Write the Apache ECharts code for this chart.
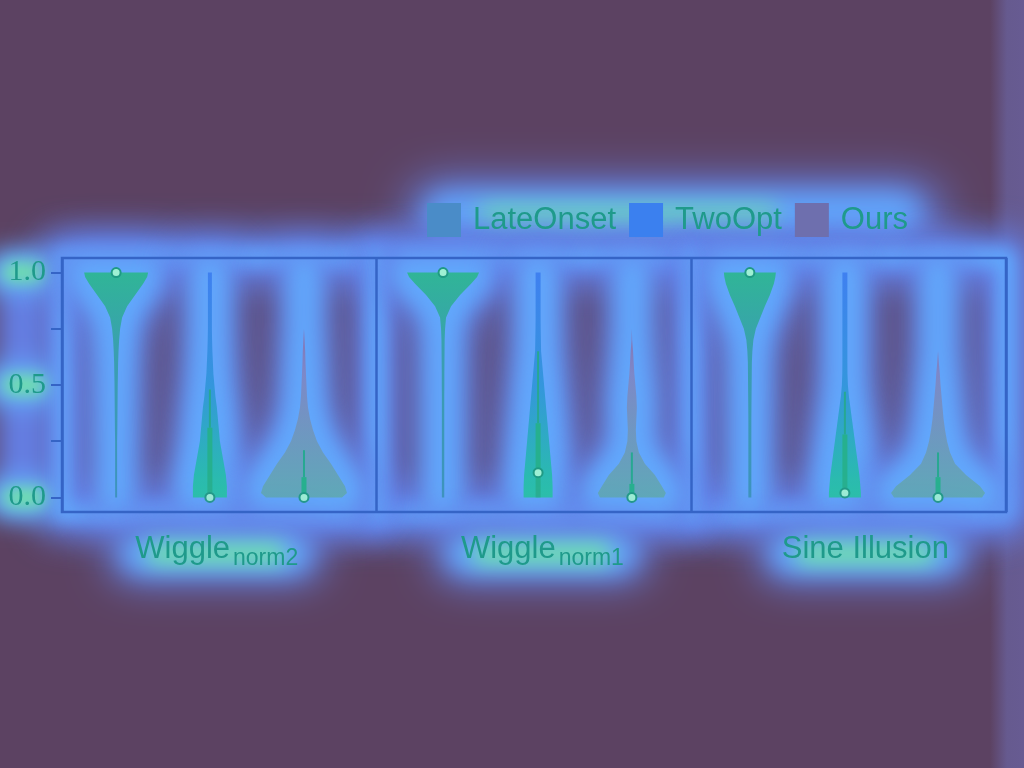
<!DOCTYPE html>
<html><head><meta charset="utf-8">
<script src="https://cdn.jsdelivr.net/npm/echarts@6/dist/echarts.min.js"></script>
<style>html,body{margin:0;padding:0;background:#5c4262;}#c{width:1024px;height:768px;}</style>
</head><body><div id="c"></div>
<script>
// ---------- data ----------
const yGrid = [0,0.02,0.05,0.1,0.15,0.2,0.25,0.3,0.35,0.4,0.45,0.5,0.55,0.6,0.65,0.7,0.75,0.8,0.85,0.9,0.95,0.98,1];
const seriesNames = ['LateOnset','TwoOpt','Ours'];
const panelMain = ['Wiggle','Wiggle','Sine Illusion'];
const panelSub = ['norm2','norm1',''];
const panelLabelX = [0.534,1.569,2.553];
const yTickValues = [0,0.25,0.5,0.75,1];
const yLabelValues = [0,0.5,1];

const posLateOnset = [0.172,1.211,2.186];
const posTwoOpt = [0.470,1.513,2.488];
const posOurs = [0.769,1.811,2.784];

const densLateOnset = [
  [1,1,1,1,1,1,1,1.2,1.3,1.4,1.5,1.6,1.8,2,2.4,3,4,6,11,19,27,31,32],
  [1.2,1.2,1.2,1.2,1.2,1.2,1.2,1.2,1.2,1.2,1.2,1.3,1.3,1.4,1.5,1.6,2,3,8,17,28,34,36],
  [1.5,1.5,1.5,1.5,1.5,1.5,1.5,1.5,1.5,1.6,1.7,1.8,1.9,2,2.5,3.5,6,10.5,15,20,24,25.5,26]
];
const densTwoOpt = [
  [17,17,17,16,14,12,10,9,8,7,5.5,4.5,3.5,3,2.5,2.2,2,2,2,2,2,2,2],
  [14.5,14.5,14.5,14,13,12,11,10,9,8,7,6,5,4,3,2.8,2.6,2.5,2.5,2.5,2.5,2.5,2.5],
  [16,16,15.5,14.5,13,11.5,10,8.5,7,5.5,4,3,2.6,2.5,2.5,2.5,2.5,2.5,2.5,2.5,2.5,2.5,2.5]
];
const densOurs = [
  [38,43,41,34,27,19,13,9,6,4,3,2.5,2,1.5,1.2,0.6,0,0,0,0,0,0,0],
  [32,34,30,23,13,7,4.5,4,4.5,5,4.5,3.5,2.5,1.8,1.2,0.3,0,0,0,0,0,0,0],
  [44,47,42,28,17,12,9,7,5.5,4.5,3.5,2.5,1.8,0.8,0,0,0,0,0,0,0,0,0]
];
const medianLateOnset = [1,1,1], q1LateOnset = [1,1,1], q3LateOnset = [1,1,1], whiskerLateOnset = [1,1,1];
const medianTwoOpt = [0,0.11,0.02], q1TwoOpt = [0,0,0], q3TwoOpt = [0.31,0.33,0.28], whiskerTwoOpt = [0.48,0.65,0.47];
const medianOurs = [0,0,0], q1Ours = [0,0,0], q3Ours = [0.09,0.06,0.09], whiskerOurs = [0.21,0.2,0.2];

// ---------- style ----------
const Y_MIN = -0.065, Y_MAX = 1.065;
const WIDTH_SCALE = 1/314.67;
const FRAME = '#3564c6';
const TEXT = '#1f9a8b';
const BLUE = 'rgba(100,128,232,1)';
const LIGHT = 'rgba(98,168,252,1)';
const GREEN = 'rgba(112,228,168,1)';
const OFF = 5000;
const legendColors = ['#4a8cc8','#3b80ef','#6e6fae'];
const fills = [
  {type:'linear',x:0,y:0,x2:0,y2:1,colorStops:[{offset:0,color:'#30b597'},{offset:0.35,color:'#3a9fb0'},{offset:1,color:'#3d93bd'}]},
  {type:'linear',x:0,y:0,x2:0,y2:1,colorStops:[{offset:0,color:'#3f80f0'},{offset:0.5,color:'#3496dc'},{offset:1,color:'#28c2a6'}]},
  {type:'linear',x:0,y:0,x2:0,y2:1,colorStops:[{offset:0,color:'#8c5a9c'},{offset:0.45,color:'#7d88c8'},{offset:1,color:'#5fa8b8'}]}
];
const allPos = [posLateOnset, posTwoOpt, posOurs];
const allDens = [densLateOnset, densTwoOpt, densOurs];
const allMed = [medianLateOnset, medianTwoOpt, medianOurs];
const allQ1 = [q1LateOnset, q1TwoOpt, q1Ours];
const allQ3 = [q3LateOnset, q3TwoOpt, q3Ours];
const allWh = [whiskerLateOnset, whiskerTwoOpt, whiskerOurs];

function violinPoints(api, x, d) {
  const right = [], left = [];
  for (let i = 0; i < yGrid.length; i++) right.push(api.coord([x + d[i]*WIDTH_SCALE, yGrid[i]]));
  for (let i = yGrid.length - 1; i >= 0; i--) left.push(api.coord([x - d[i]*WIDTH_SCALE, yGrid[i]]));
  return right.concat(left);
}

// soft glow: the shape is drawn far off-canvas and only its blurred shadow lands in place
function glow(type, shape, color, blur, lineWidth, filled) {
  return {type, shape, x: -OFF, silent: true, style: {
    fill: filled === false ? 'none' : '#fff', stroke: '#fff', lineWidth: lineWidth || 0,
    lineJoin: 'round', lineCap: 'round',
    shadowBlur: blur, shadowColor: color, shadowOffsetX: OFF, shadowOffsetY: 0}};
}

function renderViolinGlow(params, api) {
  const s = api.value(0), p = api.value(1);
  const pts = violinPoints(api, allPos[s][p], allDens[s][p]);
  return {type: 'group', children: [
    glow('polygon', {points: pts}, BLUE, 40, 58),
    glow('polygon', {points: pts}, LIGHT, 22, 34)
  ]};
}

function renderFrameGlow(params, api) {
  const cs = params.coordSys;
  const children = [];
  const rectShape = {x: cs.x, y: cs.y, width: cs.width, height: cs.height};
  children.push(glow('rect', rectShape, BLUE, 32, 52, false));
  children.push(glow('rect', rectShape, LIGHT, 16, 20, false));
  [1, 2].forEach(k => {
    const a = api.coord([k, Y_MIN]), b = api.coord([k, Y_MAX]);
    const ln = {x1:a[0],y1:a[1],x2:b[0],y2:b[1]};
    children.push(glow('line', ln, BLUE, 30, 48, false));
    children.push(glow('line', ln, LIGHT, 16, 20, false));
  });
  const top = api.coord([0, Y_MAX]), bot = api.coord([0, Y_MIN]);
  children.push(glow('rect', {x: top[0]-64, y: top[1]+2, width: 48, height: bot[1]-top[1]-4, r: 16}, BLUE, 28));
  yLabelValues.forEach(v => {
    const c = api.coord([0, v]);
    children.push(glow('rect', {x:c[0]-76, y:c[1]-22, width:70, height:44, r:20}, LIGHT, 24));
    children.push(glow('rect', {x:c[0]-60, y:c[1]-10, width:44, height:20, r:10}, GREEN, 16));
  });
  return {type:'group', children};
}

function makeViolinRenderer(s) {
  return function(params, api) {
    const p = api.value(0);
    const x = allPos[s][p];
    const pts = violinPoints(api, x, allDens[s][p]);
    const q1 = api.coord([x, allQ1[s][p]]), q3 = api.coord([x, allQ3[s][p]]);
    const wh = api.coord([x, allWh[s][p]]), md = api.coord([x, allMed[s][p]]);
    const children = [
      {type:'polygon', shape:{points: pts}, style:{fill: fills[s]}},
      {type:'line', shape:{x1:q3[0],y1:q3[1],x2:wh[0],y2:wh[1]}, style:{stroke:'#27a891', lineWidth:2}},
      {type:'line', shape:{x1:q1[0],y1:q1[1],x2:q3[0],y2:q3[1]}, style:{stroke:'#26b08e', lineWidth:5}},
      {type:'circle', shape:{cx: md[0], cy: md[1], r: 4.5}, style:{fill:'#9ef0d4', stroke:'#1f9a84', lineWidth:2}}
    ];
    return {type:'group', children};
  };
}

function renderLabels(params, api) {
  const p = api.value(0);
  const c = api.coord([panelLabelX[p], Y_MIN]);
  const children = [];
  const hasSub = panelSub[p] !== '';
  const cx = hasSub ? c[0] - 14 : c[0];
  children.push(glow('rect', {x:cx-108, y:c[1]+14, width:216, height:56, r:28}, BLUE, 40));
  children.push(glow('rect', {x:cx-94, y:c[1]+24, width:188, height:36, r:18}, LIGHT, 24));
  children.push(glow('rect', {x:cx-70, y:c[1]+32, width:140, height:20, r:10}, GREEN, 20));
  const font = 'Liberation Sans, Arial, sans-serif';
  if (hasSub) {
    children.push({type:'text', x: c[0], y: c[1] + 37, style:{text: panelMain[p], fontFamily: font, fontSize:31, fill: TEXT, align:'right', verticalAlign:'middle'}});
    children.push({type:'text', x: c[0] + 3, y: c[1] + 47, style:{text: panelSub[p], fontFamily: font, fontSize:23, fill: TEXT, align:'left', verticalAlign:'middle'}});
  } else {
    children.push({type:'text', x: c[0], y: c[1] + 37, style:{text: panelMain[p], fontFamily: font, fontSize:31, fill: TEXT, align:'center', verticalAlign:'middle'}});
  }
  return {type:'group', children};
}

const glowData = [];
for (let s = 0; s < 3; s++) for (let p = 0; p < 3; p++) glowData.push([s, p]);

const series = [
  {type:'custom', name:'frameGlow', coordinateSystem:'cartesian2d', data:[[0,0]], renderItem: renderFrameGlow, z:1, silent:true, clip:false},
  {type:'custom', name:'violinGlow', coordinateSystem:'cartesian2d', data: glowData, renderItem: renderViolinGlow, z:1, silent:true, clip:false}
];
seriesNames.forEach((n, s) => {
  series.push({type:'custom', name:n, coordinateSystem:'cartesian2d', data:[[0],[1],[2]], renderItem: makeViolinRenderer(s), itemStyle:{color: legendColors[s]}, z:3, clip:false});
});
series.push({type:'custom', name:'labels', coordinateSystem:'cartesian2d', data:[[0],[1],[2]], renderItem: renderLabels, z:3, silent:true, clip:false});

const glowG = (shape, color, blur) => ({type:'rect', x:-OFF, z:0, silent:true, shape, style:{fill:'#fff', shadowBlur:blur, shadowColor:color, shadowOffsetX:OFF}});

const chart = echarts.init(document.getElementById('c'), null, {renderer:'canvas'});
chart.setOption({
  backgroundColor: '#5c4262',
  animation: false,
  graphic: [
    {type:'rect', right:0, top:0, z:0, shape:{width:34, height:768}, style:{fill:{type:'linear',x:0,y:0,x2:1,y2:0,colorStops:[{offset:0,color:'rgba(103,90,144,0)'},{offset:0.5,color:'#665a8f'},{offset:1,color:'#675b92'}]}}},
    glowG({x:408, y:182, width:534, height:66, r:33}, BLUE, 46),
    glowG({x:426, y:194, width:494, height:42, r:21}, LIGHT, 26),
    glowG({x:478, y:207, width:300, height:16, r:8}, GREEN, 22)
  ],
  legend: {
    data: seriesNames, left: 422, top: 198, itemWidth: 34, itemHeight: 34, itemGap: 13, icon: 'rect',
    textStyle: {fontFamily:'Liberation Sans, Arial, sans-serif', fontSize: 31, color: TEXT, padding:[0,0,0,7]},
    selectedMode: false
  },
  grid: {left: 62, right: 18, top: 258, bottom: 256, show: true, borderColor: FRAME, borderWidth: 2.5, backgroundColor:'transparent', z: 5},
  xAxis: {type:'value', min:0, max:3, interval:1, z:5,
    axisLine:{show:false}, axisTick:{show:false}, axisLabel:{show:false},
    splitLine:{show:true, lineStyle:{color: FRAME, width: 2.5}}},
  yAxis: {type:'value', min: Y_MIN, max: Y_MAX, z:5,
    axisLine:{show:false},
    axisTick:{show:true, length: 11, customValues: yTickValues, lineStyle:{color: FRAME, width: 2}},
    axisLabel:{show:true, customValues: yLabelValues, margin: 16, formatter: v => v.toFixed(1),
      fontFamily:'Liberation Serif, Times New Roman, serif', fontSize: 30, color: TEXT},
    splitLine:{show:false}},
  series
});
</script></body></html>
